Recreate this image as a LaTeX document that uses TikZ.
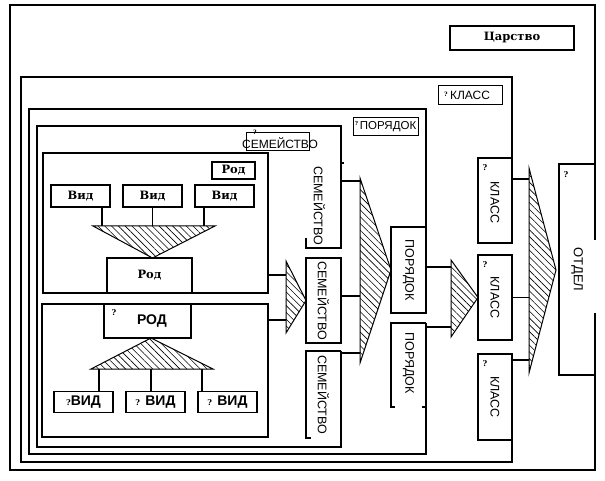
\documentclass[tikz,border=0pt]{standalone}
\usepackage{fontspec}
\setmainfont{DejaVu Serif}
\setsansfont{Liberation Sans}
\usetikzlibrary{positioning,patterns.meta}

\newcommand{\askmark}{{\rmfamily\bfseries\fontsize{8}{9}\selectfont ?}}

\begin{document}
\begin{tikzpicture}[
      x=1pt, y=-1pt,
      frame/.style={draw, line width=1.1pt},
      box/.style={rectangle, draw, line width=1.1pt, inner sep=0pt, outer sep=0pt, font=\bfseries\fontsize{11.5}{14}\selectfont},
      tagbox/.style={rectangle, draw, line width=1pt, inner sep=0pt, outer sep=0pt, font=\sffamily\fontsize{12}{14}\selectfont},
      boldbox/.style={box, font=\sffamily\bfseries\fontsize{14}{16}\selectfont},
      vbox/.style={rectangle, inner sep=0pt, outer sep=0pt, minimum width=35pt, minimum height=85pt},
      vlabel/.style={rotate=-90, inner sep=0pt, font=\sffamily\fontsize{12.5}{14}\selectfont},
      qmark/.style={inner sep=0pt, font=\bfseries\fontsize{8}{9}\selectfont},
      hatch/.style={draw, line width=1pt, pattern={Lines[angle=-45, distance=4.8pt, line width=0.6pt]}},
      link/.style={draw, line width=1.1pt}
    ]

    % ============ BACKGROUND ============
    \fill[white] (0,0) rectangle (605,481);
    \useasboundingbox (0,0) rectangle (605,481);

    % ============ ROD (upper) ============
    \node[box, minimum width=225pt, minimum height=140pt] (rodA) at (155.5,223) {};
    \node[box, minimum width=43pt, minimum height=17pt] (rodTag) at (233.5,170.5) {Род};
    \node[box, minimum width=59pt, minimum height=22pt] (vid1) at (80.5,196) {Вид};
    \node[box, minimum width=59pt, minimum height=22pt, right=13pt of vid1] (vid2) {Вид};
    \node[box, minimum width=59pt, minimum height=22pt, right=13pt of vid2] (vid3) {Вид};
    \node[box, minimum width=85pt, minimum height=35pt] (rod1) at (149.5,275.5) {Род};

    % Vid -> Rod funnel
    \coordinate (ta1) at (93,226);
    \coordinate (ta2) at (215,226);
    \coordinate (ta3) at (vid2.south |- rod1.north);
    \coordinate (va1) at ([xshift=-8pt]vid1.south east);
    \coordinate (va3) at ([xshift=9pt]vid3.south west);
    \draw[link] (va1) -- (va1 |- ta1);
    \draw[link] (vid2.south) -- (vid2.south |- ta1);
    \draw[link] (va3) -- (va3 |- ta1);
    \draw[hatch] (ta1) -- (ta2) -- (ta3) -- cycle;

    % ============ ROD (lower) ============
    \node[box, minimum width=226pt, minimum height=133pt] (rodB) at (155,370.5) {};
    \node[boldbox, minimum width=87pt, minimum height=34pt] (rod2) at (147.5,321) {\hspace*{9pt}РОД};
    \node[qmark] (rod2q) at ([shift={(10,9)}]rod2.north west) {?};
    \node[boldbox, minimum width=59pt, minimum height=21pt] (vidB1) at (83.5,402) {\askmark ВИД};
    \node[boldbox, minimum width=59pt, minimum height=21pt, right=13pt of vidB1] (vidB2) {{\askmark} ВИД};
    \node[boldbox, minimum width=59pt, minimum height=21pt, right=13pt of vidB2] (vidB3) {{\askmark} ВИД};

    % Rod -> Vid fan
    \coordinate (tb1) at (91,369);
    \coordinate (tb2) at (213,369);
    \coordinate (tb3) at ([xshift=3.5pt]rod2.south);
    \coordinate (vb1) at ([xshift=-14pt]vidB1.north east);
    \coordinate (vb2) at ([xshift=-4.5pt]vidB2.north);
    \coordinate (vb3) at ([xshift=4pt]vidB3.north west);
    \draw[link] (vb1) -- (vb1 |- tb1);
    \draw[link] (vb2) -- (vb2 |- tb1);
    \draw[link] (vb3) -- (vb3 |- tb1);
    \draw[hatch] (tb1) -- (tb2) -- (tb3) -- cycle;

    % ============ SEMEISTVO ============
    \node[vbox] (s1) at (323.5,205.5) {};
    \node[vbox, draw, line width=1.1pt, below=10pt of s1] (s2) {};
    \node[vbox, minimum height=87pt, below=8pt of s2] (s3) {};
    \node[vlabel] (s1t) at ([xshift=-4pt]s1.center) {СЕМЕЙСТВО};
    \node[vlabel] (s2t) at (s2) {СЕМЕЙСТВО};
    \node[vlabel] (s3t) at (s3) {СЕМЕЙСТВО};

    % open box edges
    \draw[frame] ([xshift=3pt]s1.north east) -- (s1.north east) -- (s1.south east) -- (s1.south west) -- ([yshift=10pt]s1.south west);
    \draw[frame] (s3.north east) -- (s3.north west) -- (s3.south west) -- ([xshift=5pt]s3.south west);

    % Rod -> Semeistvo
    \coordinate (t0a) at (286,261);
    \coordinate (t0b) at (286,333);
    \coordinate (rodAout) at ([yshift=-52pt]rodA.east);
    \coordinate (rodBout) at ([yshift=50.5pt]rodB.east);
    \draw[link] (rodAout) -- (rodAout -| t0a);
    \draw[link] (rodBout) -- (rodBout -| t0a);
    \draw[hatch] (t0a) -- (s2.west) -- (t0b) -- cycle;

    % tag
    \node[tagbox, minimum width=63pt, minimum height=18pt] (semTag) at (277.5,142) {};
    \node[qmark, font=\bfseries\fontsize{6}{7}\selectfont] (semTagQ) at ([shift={(9,-1)}]semTag.north west) {?};
    \node[inner sep=0pt, font=\sffamily\fontsize{12}{14}\selectfont] (semTagText) at (280,143.5) {СЕМЕЙСТВО};

    % frame
    \coordinate (semNW) at (37,126);
    \coordinate (semSW) at (37,447);
    \draw[frame] (s1.north east) |- (semNW) -- (semSW) -| (s3.north east);

    % ============ PORYADOK ============
    \node[vbox, draw, line width=1.1pt, minimum height=86pt] (p1) at (408.5,270) {};
    \node[vbox, minimum height=84pt, below=10pt of p1] (p2) {};
    \node[vlabel] (p1t) at (p1) {ПОРЯДОК};
    \node[vlabel] (p2t) at ([yshift=2pt]p2.center) {ПОРЯДОК};
    \draw[frame] (p2.north east) -- (p2.north west) -- (p2.south west) -- ([xshift=4pt]p2.south west);
    \draw[frame] (p2.south east) -- ([xshift=-4pt]p2.south east);

    % Semeistvo -> Poryadok
    \coordinate (t1a) at (360,178);
    \coordinate (t1b) at (360,363);
    \coordinate (s1out) at ([yshift=-18pt]s1.north east);
    \coordinate (s2out) at ([yshift=4.5pt]s2.east);
    \coordinate (s3out) at ([yshift=-2pt]s3.north east);
    \draw[link] (s1out) -- (s1out -| t1a);
    \draw[link] (s2out) -- (s2out -| t1a);
    \draw[link] (s3out) -- (s3out -| t1a);
    \draw[hatch] (t1a) -- (p1.west) -- (t1b) -- cycle;

    % tag
    \node[tagbox, minimum width=65pt, minimum height=18pt, font=\sffamily\fontsize{11.5}{14}\selectfont] (porTag) at (385.5,127) {\hspace*{5pt}ПОРЯДОК};
    \node[qmark, font=\bfseries\fontsize{5.5}{7}\selectfont] (porTagQ) at (356.5,123) {?};

    % frame
    \coordinate (porNW) at (29,109);
    \coordinate (porSW) at (29,454);
    \draw[frame] (p1.north east) |- (porNW) -- (porSW) -| (p2.north east);

    % ============ KLASS ============
    \node[vbox, draw, line width=1.1pt, minimum width=34pt] (k1) at (495,200.5) {};
    \node[vbox, draw, line width=1.1pt, minimum width=34pt, below=12pt of k1] (k2) {};
    \node[vbox, draw, line width=1.1pt, minimum width=34pt, minimum height=86pt, below=14pt of k2] (k3) {};
    \node[vlabel] (k1t) at ([yshift=-2pt]k1.center) {КЛАСС};
    \node[vlabel] (k2t) at (k2) {КЛАСС};
    \node[vlabel] (k3t) at (k3) {КЛАСС};
    \node[qmark] (k1q) at ([shift={(7,10)}]k1.north west) {?};
    \node[qmark] (k2q) at ([shift={(7,10)}]k2.north west) {?};
    \node[qmark] (k3q) at ([shift={(7,10)}]k3.north west) {?};

    % Poryadok -> Klass
    \coordinate (t2a) at (451,260);
    \coordinate (t2b) at (451,337);
    \coordinate (p1out) at ([yshift=3pt]p1.east);
    \coordinate (p2out) at ([yshift=-4pt]p2.north east);
    \draw[link] (p1out) -- (p1out -| t2a);
    \draw[link] (p2out) -- (p2out -| t2a);
    \draw[hatch] (t2a) -- (k2.west) -- (t2b) -- cycle;

    % tag
    \node[tagbox, minimum width=64pt, minimum height=19pt] (klassTag) at (470,95.5) {КЛАСС};
    \node[qmark, font=\bfseries\fontsize{6}{7}\selectfont] (klassTagQ) at (446,94) {?};

    % frame
    \coordinate (klNW) at (21,77);
    \coordinate (klSW) at (21,462);
    \draw[frame] (k1.north east) |- (klNW) -- (klSW) -| (k3.south east);

    % ============ OTDEL / TSARSTVO ============
    \node[vbox, minimum width=36pt, minimum height=211pt] (otdel) at (577,269.5) {};
    \node[vlabel, font=\sffamily\fontsize{13}{15}\selectfont] (otdelt) at (otdel) {ОТДЕЛ};
    \node[qmark] (otdelq) at ([shift={(7,11)}]otdel.north west) {?};
    \draw[frame] ([yshift=-76pt]otdel.north east) -- (otdel.north east) -- (otdel.north west) -- (otdel.south west) -- (otdel.south east) -- ([yshift=62pt]otdel.south east);

    % Klass -> Otdel
    \coordinate (t3a) at (529,168);
    \coordinate (t3b) at (529,373);
    \coordinate (t3c) at (556,270);
    \coordinate (k1out) at ([yshift=-21pt]k1.north east);
    \coordinate (k3out) at ([yshift=-6pt]k3.north east);
    \draw[link] (k1out) -- (k1out -| t3a);
    \draw[link] (k2.east) -- (k2.east -| t3a);
    \draw[link] (k3out) -- (k3out -| t3a);
    \draw[hatch] (t3a) -- (t3c) -- (t3b) -- cycle;

    \node[box, minimum width=124pt, minimum height=24pt] (tsar) at (512,38) {Царство};

    % outer frame
    \coordinate (otNW) at (10,5);
    \coordinate (otSW) at (10,470);
    \draw[frame] (otdel.north east) |- (otNW) -- (otSW) -| (otdel.south east);

  \end{tikzpicture}
\end{document}
